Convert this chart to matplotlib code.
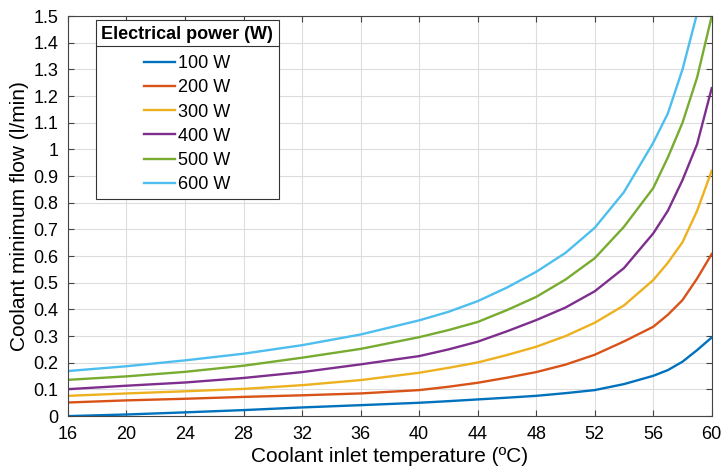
import numpy as np
import matplotlib.pyplot as plt
from matplotlib.lines import Line2D

plt.rcParams['font.family'] = ['Liberation Sans', 'DejaVu Sans']

temp = [16, 20, 24, 28, 32, 36, 40, 42, 44, 46, 48, 50, 52, 54, 56, 57, 58, 59, 60]

flow_100 = [0.0, 0.006, 0.014, 0.0225, 0.0325, 0.041, 0.05, 0.056, 0.0625, 0.069,
            0.076, 0.086, 0.0975, 0.12, 0.151, 0.1725, 0.204, 0.2475, 0.295]
flow_200 = [0.051, 0.059, 0.065, 0.072, 0.078, 0.085, 0.0975, 0.11, 0.125, 0.144,
            0.165, 0.193, 0.23, 0.28, 0.335, 0.38, 0.435, 0.516, 0.608]
flow_300 = [0.076, 0.085, 0.093, 0.102, 0.116, 0.135, 0.1625, 0.181, 0.201, 0.229,
            0.26, 0.30, 0.35, 0.415, 0.51, 0.575, 0.652, 0.77, 0.92]
flow_400 = [0.101, 0.114, 0.126, 0.143, 0.165, 0.194, 0.225, 0.25, 0.279, 0.318,
            0.36, 0.407, 0.468, 0.555, 0.685, 0.77, 0.885, 1.02, 1.23]
flow_500 = [0.136, 0.149, 0.166, 0.189, 0.219, 0.252, 0.296, 0.3225, 0.353, 0.3975,
            0.447, 0.512, 0.592, 0.71, 0.855, 0.97, 1.10, 1.27, 1.5]
flow_600 = [0.169, 0.187, 0.209, 0.234, 0.266, 0.306, 0.359, 0.391, 0.431, 0.482,
            0.541, 0.612, 0.706, 0.84, 1.025, 1.135, 1.30, 1.51, 1.85]

series = [flow_100, flow_200, flow_300, flow_400, flow_500, flow_600]
labels = ['100 W', '200 W', '300 W', '400 W', '500 W', '600 W']
colors = ['#0072BD', '#D95319', '#EDB120', '#7E2F8E', '#77AC30', '#4DBEEE']

fig = plt.figure(figsize=(7.27, 4.75), dpi=100)
ax = fig.add_axes([0.0935, 0.124, 0.8855, 0.842])

for y, lab, c in zip(series, labels, colors):
    ax.plot(temp, y, color=c, lw=1.7, label=lab)

ax.set_xlim(16, 60)
ax.set_ylim(0, 1.5)
ax.set_xticks(np.arange(16, 61, 4))
ax.set_yticks(np.arange(0, 1.51, 0.1))
ax.set_yticklabels(['0'] + ['%g' % round(v, 1) for v in np.arange(0.1, 1.51, 0.1)])
ax.grid(True, color='#dddddd', lw=0.8)
ax.tick_params(direction='in', top=True, right=True, labelsize=13, color='#444444',
               length=4, pad=7)
for s in ax.spines.values():
    s.set_color('#444444')
ax.set_xlabel('Coolant inlet temperature (ºC)', fontsize=15, labelpad=3)
ax.set_ylabel('Coolant minimum flow (l/min)', fontsize=15, labelpad=3)

leg = ax.legend(title='Electrical power (W)', loc='upper left',
                bbox_to_anchor=(0.0435, 0.99), borderaxespad=0, fontsize=13,
                handlelength=1.7, handletextpad=0.2, labelspacing=0.4,
                fancybox=False, edgecolor='#333333', framealpha=1, borderpad=0.3)
leg.get_title().set_fontweight('bold')
leg.get_title().set_fontsize(13)
leg.get_frame().set_linewidth(0.8)
leg._legend_box.sep = 9

fig.canvas.draw()
lb = leg.get_window_extent()
tb = leg.get_title().get_window_extent()
ysep = tb.y0 - 3
inv = fig.transFigure.inverted()
(x0, y0) = inv.transform((lb.x0, ysep))
(x1, _) = inv.transform((lb.x1, ysep))
fig.add_artist(Line2D([x0, x1], [y0, y0], color='#333333', lw=0.8))

fig.savefig('out.png', dpi=100)
